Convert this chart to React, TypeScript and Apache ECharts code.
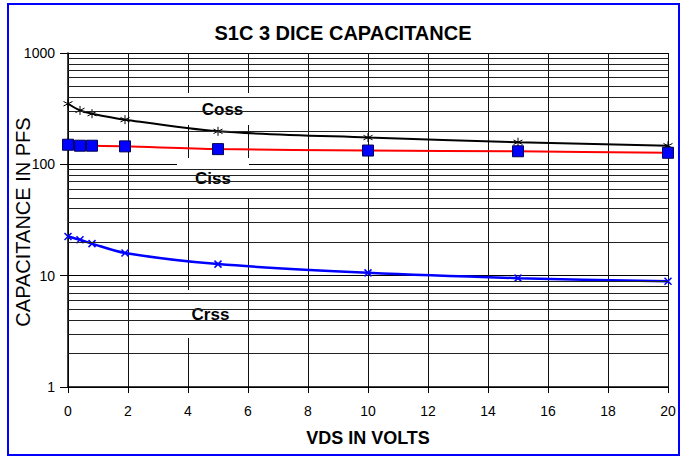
import React, { useEffect, useRef } from "react";
import * as echarts from "echarts";

const vds = [0, 0.4, 0.8, 1.9, 5, 10, 15, 20];
const coss = [350, 305, 285, 252, 198, 174, 158, 147];
const ciss = [150, 147, 147, 145, 137, 133, 131, 127];
const crss = [22.5, 21.0, 19.4, 16.0, 12.7, 10.6, 9.5, 8.9];
const minorGrid = [2, 3, 4, 5, 6, 7, 8, 9, 20, 30, 40, 50, 60, 70, 80, 90, 200, 300, 400, 500, 600, 700, 800, 900];
const titleText = "S1C 3 DICE CAPACITANCE";
const xName = "VDS IN VOLTS";
const yName = "CAPACITANCE IN PFS";

const FONT = '"Liberation Sans", Arial, Helvetica, sans-serif';

function labelBox(text: string, x: number, y: number, w: number, h: number) {
  return [
    {
      type: "rect",
      z: 1,
      silent: true,
      shape: { x, y, width: w, height: h },
      style: { fill: "#ffffff" },
    },
    {
      type: "text",
      z: 1,
      z2: 10,
      silent: true,
      x: x + w / 2,
      y: y + h / 2,
      style: {
        text,
        fill: "#000",
        font: `bold 17px ${FONT}`,
        align: "center",
        verticalAlign: "middle",
      },
    },
  ];
}

export default function App() {
  const ref = useRef<HTMLDivElement>(null);
  useEffect(() => {
    if (!ref.current) return;
    const chart = echarts.init(ref.current, undefined, { renderer: "svg" });
    const pts = (ys: number[]) => vds.map((x, i) => [x, ys[i]]);
    chart.setOption({
      animation: false,
      backgroundColor: "#ffffff",
      textStyle: { fontFamily: FONT },
      title: {
        text: titleText,
        left: "center",
        top: 18,
        textStyle: { fontSize: 20, fontWeight: "bold", color: "#000", fontFamily: FONT },
      },
      grid: {
        left: 68,
        right: 18,
        top: 53,
        bottom: 71,
        containLabel: false,
        outerBoundsMode: "none",
      },
      xAxis: {
        type: "value",
        min: 0,
        max: 20,
        interval: 2,
        name: xName,
        nameLocation: "middle",
        nameGap: 42,
        nameTextStyle: { fontSize: 18, fontWeight: "bold", color: "#000", fontFamily: FONT },
        axisLine: { show: true, lineStyle: { color: "#000", width: 1.5 } },
        axisTick: { show: true, length: 6, lineStyle: { color: "#000" } },
        axisLabel: { fontSize: 14, color: "#000", margin: 17, fontFamily: FONT },
        splitLine: { show: true, lineStyle: { color: "#111", width: 1 } },
      },
      yAxis: {
        type: "log",
        logBase: 10,
        min: 1,
        max: 1000,
        axisLine: { show: true, lineStyle: { color: "#000", width: 1.5 } },
        axisTick: { show: true, length: 8, lineStyle: { color: "#000" } },
        axisLabel: {
          fontSize: 14,
          color: "#000",
          margin: 13,
          fontFamily: FONT,
          formatter: (v: number) => String(Math.round(v)),
        },
        splitLine: { show: true, lineStyle: { color: "#000", width: 1 } },
        minorTick: { show: false },
      },
      graphic: [
        {
          type: "rect",
          z: 5,
          silent: true,
          shape: { x: 8, y: 4, width: 671, height: 451 },
          style: { fill: "none", stroke: "#0000ff", lineWidth: 2 },
        },
        {
          type: "text",
          z: 5,
          silent: true,
          x: 23,
          y: 222,
          rotation: Math.PI / 2,
          style: {
            text: yName,
            fill: "#000",
            font: `20px ${FONT}`,
            align: "center",
            verticalAlign: "middle",
          },
        },
        ...labelBox("Coss", 183, 93, 79, 32),
        ...labelBox("Ciss", 177, 158, 72, 40),
        ...labelBox("Crss", 176, 290, 69, 48),
      ],
      series: [
        {
          type: "line",
          name: "grid",
          z: 0,
          silent: true,
          data: [],
          markLine: {
            silent: true,
            symbol: ["none", "none"],
            label: { show: false },
            lineStyle: { color: "#222", width: 1, type: "solid" },
            data: minorGrid.map((v) => ({ yAxis: v })),
          },
        },
        {
          type: "line",
          name: "Coss",
          z: 3,
          smooth: 0.3,
          data: pts(coss),
          symbol: "path://M5,0L5,10M0.7,2.5L9.3,7.5M0.7,7.5L9.3,2.5",
          symbolSize: 9,
          lineStyle: { color: "#000", width: 2 },
          itemStyle: { color: "none", borderColor: "#000", borderWidth: 1 },
        },
        {
          type: "line",
          name: "Ciss",
          z: 3,
          smooth: 0.3,
          data: pts(ciss),
          symbol: "rect",
          symbolSize: 11,
          lineStyle: { color: "#ff0000", width: 2 },
          itemStyle: { color: "#0000ff", borderColor: "#000055", borderWidth: 1 },
        },
        {
          type: "line",
          name: "Crss",
          z: 3,
          smooth: 0.3,
          data: pts(crss),
          symbol: "path://M0,0L10,10M0,10L10,0",
          symbolSize: 7,
          lineStyle: { color: "#0000ff", width: 2.5 },
          itemStyle: { color: "none", borderColor: "#0000ff", borderWidth: 1.5 },
        },
      ],
    });
    return () => chart.dispose();
  }, []);
  return (
    <div
      ref={ref}
      style={{ position: "fixed", left: 0, top: 0, width: 686, height: 458, background: "#fff" }}
    />
  );
}
